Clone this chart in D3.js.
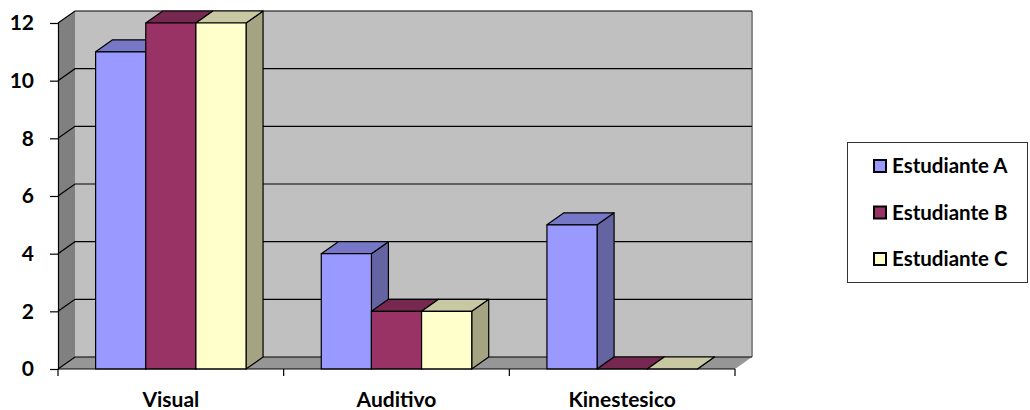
<!DOCTYPE html>
<html>
<head>
<meta charset="utf-8">
<script src="https://cdn.jsdelivr.net/npm/d3@7"></script>
<style>
  html, body { margin: 0; padding: 0; background: #fff; }
  svg { display: block; font-family: Lato, "Open Sans", sans-serif; font-weight: bold; }
</style>
</head>
<body>
<svg id="chart" width="1030" height="410"></svg>
<script>
// Learning styles per student
const categories = ["Visual", "Auditivo", "Kinestesico"];
const seriesNames = ["Estudiante A", "Estudiante B", "Estudiante C"];
const estudianteA = [11, 4, 5];
const estudianteB = [12, 2, 0];
const estudianteC = [12, 2, 0];
const yTicks = [0, 2, 4, 6, 8, 10, 12];

const seriesValues = [estudianteA, estudianteB, estudianteC];
const palette = [
  { front: "#9999FF", top: "#7777C8", side: "#6464A2" },
  { front: "#993366", top: "#762850", side: "#5E1F40" },
  { front: "#FFFFCC", top: "#C8C8A2", side: "#A4A482" }
];

// 3D depth offset of the plot box
const DX = 17, DY = -12;

const svg = d3.select("#chart");

const x0 = d3.scaleBand().domain(categories).range([58, 735]).padding(0);
const x1 = d3.scaleBand().domain(seriesNames).range([0, x0.bandwidth()])
  .paddingInner(0).paddingOuter(0.75);
const y = d3.scaleLinear().domain([0, 12]).range([369, 23]);

const [xL, xR] = x0.range();
const yTop = y(12), yBot = y(0);

const pts = a => a.map(p => p.join(",")).join(" ");

// back wall
svg.append("rect")
  .attr("x", xL + DX).attr("y", yTop + DY)
  .attr("width", xR - xL).attr("height", yBot - yTop)
  .attr("fill", "#C0C0C0");
svg.append("line")
  .attr("x1", xR + DX).attr("x2", xR + DX)
  .attr("y1", yTop + DY).attr("y2", yBot + DY)
  .attr("stroke", "#8a8a8a").attr("stroke-width", 2);

// left side wall
svg.append("polygon")
  .attr("points", pts([[xL, yTop], [xL + DX, yTop + DY], [xL + DX, yBot + DY], [xL, yBot]]))
  .attr("fill", "#808080");

// floor
svg.append("polygon")
  .attr("points", pts([[xL, yBot], [xL + DX, yBot + DY], [xR + DX, yBot + DY], [xR, yBot]]))
  .attr("fill", "#969696");

// gridlines on the side wall and the back wall
const grid = svg.append("g").attr("stroke", "#000").attr("stroke-width", 1.2).attr("fill", "none");
yTicks.forEach(v => {
  grid.append("polyline")
    .attr("points", pts([[xL, y(v)], [xL + DX, y(v) + DY], [xR + DX, y(v) + DY]]));
});

// columns
const bars = svg.append("g").attr("stroke", "#000").attr("stroke-width", 1.2).attr("stroke-linejoin", "round");
categories.forEach((cat, ci) => {
  seriesNames.forEach((s, si) => {
    const v = seriesValues[si][ci];
    const c = palette[si];
    const bx = x0(cat) + x1(s);
    const bw = x1.bandwidth();
    const ty = y(v), by = y(0);
    const g = bars.append("g");
    // right side face
    g.append("polygon")
      .attr("points", pts([[bx + bw, ty], [bx + bw + DX, ty + DY], [bx + bw + DX, by + DY], [bx + bw, by]]))
      .attr("fill", c.side);
    // top face
    g.append("polygon")
      .attr("points", pts([[bx, ty], [bx + DX, ty + DY], [bx + bw + DX, ty + DY], [bx + bw, ty]]))
      .attr("fill", c.top);
    // front face
    g.append("rect")
      .attr("x", bx).attr("y", ty).attr("width", bw).attr("height", by - ty)
      .attr("fill", c.front);
  });
});

// value axis
const yAxis = d3.axisLeft(y).tickValues(yTicks).tickSize(8).tickPadding(16).tickFormat(d3.format("d"));
const ya = svg.append("g").attr("transform", `translate(${xL},0)`).call(yAxis);
ya.select(".domain").attr("stroke", "#000").attr("stroke-width", 1.2);
ya.selectAll(".tick line").attr("stroke", "#000").attr("stroke-width", 1.2);
ya.selectAll(".tick text").attr("font-size", 21).attr("font-weight", "bold")
  .attr("fill", "#000").attr("font-family", "Lato, 'Open Sans', sans-serif");

// category axis
const xa = svg.append("g").attr("transform", `translate(0,${yBot})`);
xa.append("line").attr("x1", xL).attr("x2", xR).attr("y1", 0).attr("y2", 0)
  .attr("stroke", "#000").attr("stroke-width", 1.2);
const bounds = categories.map(c => x0(c)).concat([xR]);
xa.selectAll("line.tk").data(bounds).join("line").attr("class", "tk")
  .attr("x1", d => d).attr("x2", d => d).attr("y1", 0).attr("y2", 7)
  .attr("stroke", "#000").attr("stroke-width", 1.2);
xa.selectAll("text").data(categories).join("text")
  .attr("x", d => x0(d) + x0.bandwidth() / 2)
  .attr("y", 38)
  .attr("text-anchor", "middle")
  .attr("font-size", 21)
  .text(d => d);

// legend
const lg = svg.append("g");
lg.append("rect").attr("x", 847.5).attr("y", 142.5).attr("width", 180).attr("height", 140)
  .attr("fill", "#fff").attr("stroke", "#333").attr("stroke-width", 1);
seriesNames.forEach((s, i) => {
  const cy = 166 + i * 46.5;
  lg.append("rect").attr("x", 874).attr("y", cy - 6).attr("width", 12).attr("height", 12)
    .attr("fill", palette[i].front).attr("stroke", "#000").attr("stroke-width", 2);
  lg.append("text").attr("x", 892).attr("y", cy + 7).attr("font-size", 20.5).text(s);
});
</script>
</body>
</html>
